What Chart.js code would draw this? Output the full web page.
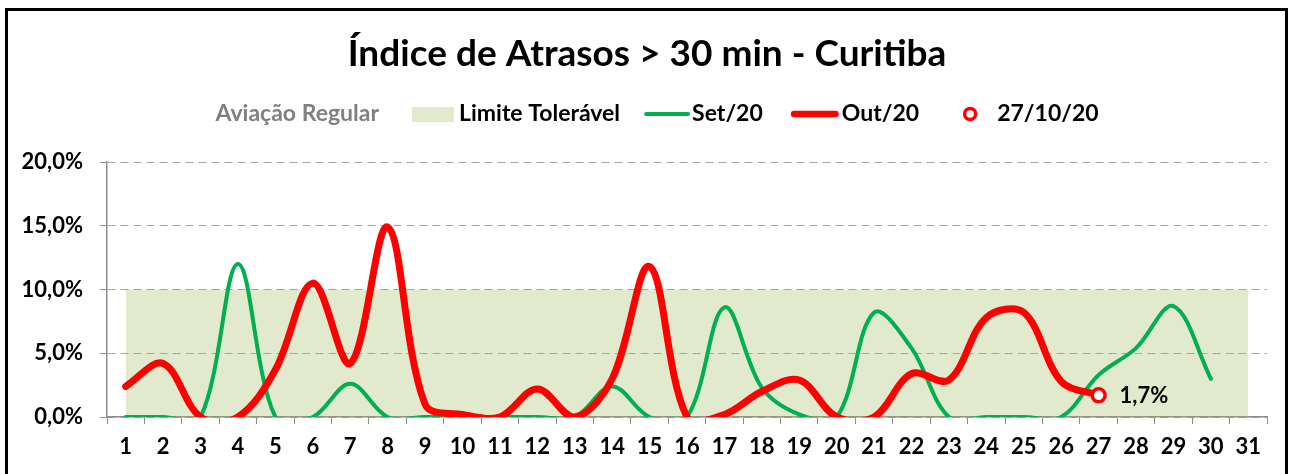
<!DOCTYPE html>
<html>
<head>
<meta charset="utf-8">
<script src="https://cdn.jsdelivr.net/npm/chart.js@4.4.0/dist/chart.umd.min.js"></script>
<style>
  html, body { margin:0; padding:0; background:#fff; overflow:hidden; }
  #wrap { position:relative; width:1294px; height:474px; }
  #frame { position:absolute; left:5px; top:8px; width:1283px; height:520px; box-sizing:border-box; border:3px solid #000; pointer-events:none; }
  canvas { position:absolute; left:0; top:0; }
</style>
</head>
<body>
<div id="wrap">
  <canvas id="chart" width="1294" height="474"></canvas>
  <div id="frame"></div>
</div>
<script>
// dias do mês (eixo X)
const days = ['1','2','3','4','5','6','7','8','9','10','11','12','13','14','15','16','17','18','19','20','21','22','23','24','25','26','27','28','29','30','31'];
// faixa "Limite Tolerável" (10%)
const limite = [10,10,10,10,10,10,10,10,10,10,10,10,10,10,10,10,10,10,10,10,10,10,10,10,10,10,10,10,10,10,10];
// Set/20 (%)
const set20 = [0,0,0,12.0,0,0,2.6,0,0,0,0,0,0,2.4,0,0,8.6,2.3,0.2,0,8.2,5.4,0,0,0,0,3.3,5.4,8.7,3.0,null];
// Out/20 (%)
const out20 = [2.4,4.2,0,0,3.7,10.5,4.2,14.9,1.0,0.2,0,2.2,0,3.0,11.8,0,0.2,2.0,2.9,0,0,3.4,2.9,7.8,8.2,2.8,1.7,null,null,null,null];
// ponto destacado 27/10/20
const destaqueDia = '27';
const destaqueValor = 1.7;
const yTicks = [0, 5, 10, 15, 20];

const FONT = 'Lato';
const fmtPct = v => v.toFixed(1).replace('.', ',') + '%';
const destaque = days.map(d => d === destaqueDia ? destaqueValor : null);

const bandColor = 'rgba(155,187,89,0.30)';
const legendItems = [
  { text:'Aviação Regular', color:'#808080', symbol:null, gap:33 },
  { text:'Limite Tolerável', symbol:'box', sw:42, sgap:5, gap:24 },
  { text:'Set/20', symbol:'line', stroke:'#00B050', lw:4, sw:46, sgap:2, gap:28 },
  { text:'Out/20', symbol:'line', stroke:'#FF0000', lw:6.5, sw:48, sgap:3, gap:43 },
  { text:'27/10/20', symbol:'circle', sw:16, sgap:19, gap:0 }
];

// legenda desenhada à mão (layout do Excel)
const legendPlugin = {
  id:'customLegend',
  afterDraw(chart) {
    const ctx = chart.ctx;
    const cy = 114;
    ctx.save();
    ctx.font = `bold 23px ${FONT}`;
    ctx.textBaseline = 'middle';
    let total = 0;
    legendItems.forEach(it => { total += (it.symbol ? it.sw + it.sgap : 0) + ctx.measureText(it.text).width + it.gap; });
    let x = chart.width / 2 + 10 - total / 2;
    legendItems.forEach(it => {
      if (it.symbol === 'box') {
        ctx.fillStyle = bandColor; ctx.fillRect(x, cy - 7, it.sw, 15);
      } else if (it.symbol === 'line') {
        ctx.strokeStyle = it.stroke; ctx.lineWidth = it.lw; ctx.lineCap = 'round';
        ctx.beginPath(); ctx.moveTo(x + it.lw/2, cy); ctx.lineTo(x + it.sw - it.lw/2, cy); ctx.stroke();
      } else if (it.symbol === 'circle') {
        ctx.strokeStyle = '#FF0000'; ctx.fillStyle = '#fff'; ctx.lineWidth = 3.5;
        ctx.beginPath(); ctx.arc(x + it.sw/2, cy, 5.5, 0, Math.PI*2); ctx.fill(); ctx.stroke();
      }
      if (it.symbol) x += it.sw + it.sgap;
      ctx.fillStyle = it.color || '#000';
      ctx.fillText(it.text, x, cy);
      x += ctx.measureText(it.text).width + it.gap;
    });
    ctx.restore();
  }
};

// rótulo "1,7%" ao lado do ponto
const labelPlugin = {
  id:'destaqueLabel',
  afterDatasetsDraw(chart) {
    const meta = chart.getDatasetMeta(3);
    const i = days.indexOf(destaqueDia);
    const pt = meta.data[i];
    if (!pt) return;
    const ctx = chart.ctx;
    ctx.save();
    ctx.font = `bold 22px ${FONT}`;
    ctx.fillStyle = '#000';
    ctx.textBaseline = 'middle';
    ctx.fillText(fmtPct(destaqueValor), pt.x + 21, pt.y + 1);
    ctx.restore();
  }
};

Chart.defaults.font.family = FONT;
const clipArea = { left:10, right:10, top:10, bottom:0 };

new Chart(document.getElementById('chart'), {
  type:'line',
  data:{
    labels: days,
    datasets:[
      { label:'Limite Tolerável', data:limite, fill:'origin', backgroundColor:bandColor, borderWidth:0, pointRadius:0, tension:0, order:4 },
      { label:'Set/20', data:set20, borderColor:'#00B050', borderWidth:4, pointRadius:0, fill:false, tension:0.35, order:3, clip:clipArea },
      { label:'Out/20', data:out20, borderColor:'#FF0000', borderWidth:7, pointRadius:0, fill:false, tension:0.35, order:2, clip:clipArea },
      { label:'27/10/20', data:destaque, showLine:false, pointRadius:6.5, pointBorderWidth:3.5, pointBorderColor:'#FF0000', pointBackgroundColor:'#fff', order:1 }
    ]
  },
  options:{
    responsive:false,
    animation:false,
    devicePixelRatio:1,
    layout:{ padding:0 },
    elements:{ line:{ capBezierPoints:false, borderCapStyle:'round', borderJoinStyle:'round' } },
    plugins:{
      legend:{ display:false },
      tooltip:{ enabled:false },
      title:{
        display:true,
        text:'Índice de Atrasos > 30 min - Curitiba',
        color:'#000',
        font:{ family:FONT, size:37, weight:'bold' },
        padding:{ top:32, bottom:85.6 }
      }
    },
    scales:{
      x:{
        offset:true,
        afterFit(scale){ scale.height = 57; },
        grid:{ display:true, drawOnChartArea:false, offset:true, tickLength:7, color:'#8c8c8c', tickColor:'#8c8c8c' },
        border:{ display:true, color:'#8c8c8c', width:1.5 },
        ticks:{ color:'#000', font:{ family:FONT, size:22, weight:'bold' }, padding:10, maxRotation:0, autoSkip:false }
      },
      y:{
        min:yTicks[0], max:yTicks[yTicks.length-1],
        afterFit(scale){ scale.width = 107; },
        afterBuildTicks(scale){ scale.ticks = yTicks.map(v => ({ value:v })); },
        grid:{ color:'#a6a6a6', lineWidth:1, tickLength:7, tickColor:'#8c8c8c' },
        border:{ display:true, color:'#8c8c8c', width:1.5, dash:[8,5] },
        ticks:{ color:'#000', font:{ family:FONT, size:22, weight:'bold' }, padding:17, callback:v => fmtPct(v) }
      },
      // eixo vazio à direita, só para reservar a margem
      yRight:{
        position:'right',
        min:0, max:20,
        afterFit(scale){ scale.width = 27; },
        grid:{ display:false },
        border:{ display:false },
        ticks:{ display:false }
      }
    }
  },
  plugins:[legendPlugin, labelPlugin]
});
</script>
</body>
</html>
